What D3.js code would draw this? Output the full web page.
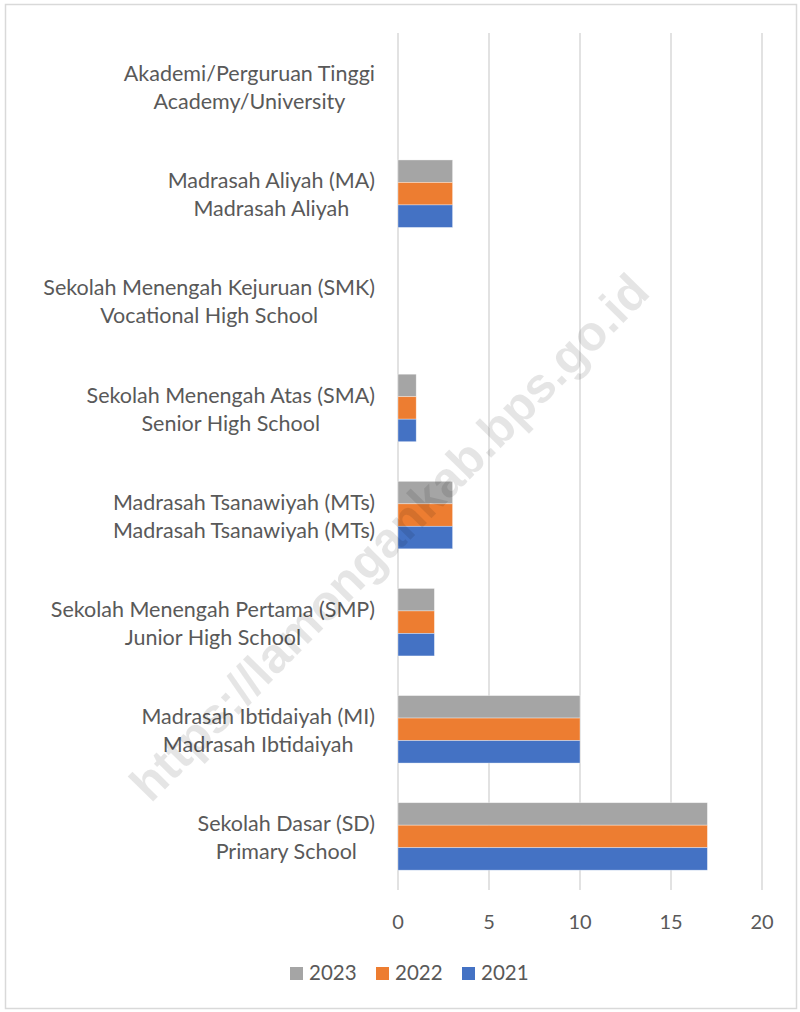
<!DOCTYPE html>
<html>
<head>
<meta charset="utf-8">
<script src="https://cdn.jsdelivr.net/npm/d3@7"></script>
<style>
  body { margin: 0; background: #fff; }
  text { font-family: Lato, "Open Sans", sans-serif; fill: #595959; }
</style>
</head>
<body>
<script>
// categories, top to bottom, two-line labels
var categories = [
  ["Akademi/Perguruan Tinggi", "Academy/University"],
  ["Madrasah Aliyah (MA)", "Madrasah Aliyah"],
  ["Sekolah Menengah Kejuruan (SMK)", "Vocational High School"],
  ["Sekolah Menengah Atas (SMA)", "Senior High School"],
  ["Madrasah Tsanawiyah (MTs)", "Madrasah Tsanawiyah (MTs)"],
  ["Sekolah Menengah Pertama (SMP)", "Junior High School"],
  ["Madrasah Ibtidaiyah (MI)", "Madrasah Ibtidaiyah"],
  ["Sekolah Dasar (SD)", "Primary School"]
];
var years = ["2023", "2022", "2021"];
var v2023 = [0, 3, 0, 1, 3, 2, 10, 17];
var v2022 = [0, 3, 0, 1, 3, 2, 10, 17];
var v2021 = [0, 3, 0, 1, 3, 2, 10, 17];
var xTicks = [0, 5, 10, 15, 20];
var colors = {"2023": "#a5a5a5", "2022": "#ed7d31", "2021": "#4472c4"};

var W = 800, H = 1012;
var svg = d3.select("body").append("svg")
    .attr("width", W).attr("height", H);

// chart frame
svg.append("rect")
    .attr("x", 5.5).attr("y", 4.5)
    .attr("width", W - 9).attr("height", H - 8)
    .attr("fill", "#fff").attr("stroke", "#d9d9d9").attr("stroke-width", 1.5);

var x = d3.scaleLinear().domain([0, 20]).range([398, 762]);
var y = d3.scaleBand().domain(d3.range(categories.length)).range([33, 890]).paddingInner(0.37).paddingOuter(0.185);
var ySub = d3.scaleBand().domain(years).range([0, y.bandwidth()]);

var series = {"2023": v2023, "2022": v2022, "2021": v2021};

// gridlines
svg.append("g").selectAll("line")
    .data(xTicks)
  .enter().append("line")
    .attr("x1", function(d) { return x(d); })
    .attr("x2", function(d) { return x(d); })
    .attr("y1", 33).attr("y2", 890)
    .attr("stroke", "#d9d9d9").attr("stroke-width", 1.5);

// bars
var groups = svg.append("g").selectAll("g")
    .data(categories.map(function(c, i) { return i; }))
  .enter().append("g")
    .attr("transform", function(i) { return "translate(0," + y(i) + ")"; });

groups.selectAll("rect")
    .data(function(i) {
      return years.filter(function(yr) { return series[yr][i] > 0; })
        .map(function(yr) { return {year: yr, value: series[yr][i]}; });
    })
  .enter().append("rect")
    .attr("x", x(0))
    .attr("y", function(d) { return ySub(d.year); })
    .attr("width", function(d) { return x(d.value) - x(0); })
    .attr("height", ySub.bandwidth())
    .attr("fill", function(d) { return colors[d.year]; })
    .attr("stroke", "#fff").attr("stroke-opacity", 0.5).attr("stroke-width", 0.7);

// category labels
var lab = svg.append("g").selectAll("text")
    .data(categories)
  .enter().append("text")
    .attr("text-anchor", "middle")
    .attr("font-size", 21.5)
    .attr("y", function(d, i) { return y(i) + y.bandwidth() / 2; });

lab.each(function(d) {
  var t = d3.select(this);
  t.append("tspan").attr("x", 0).attr("dy", "-0.25em").text(d[0]);
  t.append("tspan").attr("x", 0).attr("dy", "1.3em").text(d[1]);
  // both lines centred on each other, block right edge at 375
  var bb = this.getBBox();
  t.selectAll("tspan").attr("x", 375 - bb.width / 2);
});

// x tick labels
svg.append("g").selectAll("text")
    .data(xTicks)
  .enter().append("text")
    .attr("x", function(d) { return x(d); })
    .attr("y", 929)
    .attr("text-anchor", "middle")
    .attr("font-size", 20)
    .text(function(d) { return d; });

// legend
var legX = [290, 376, 462];
var leg = svg.append("g").selectAll("g")
    .data(years)
  .enter().append("g")
    .attr("transform", function(d, i) { return "translate(" + legX[i] + ",967)"; });
leg.append("rect")
    .attr("width", 13).attr("height", 13)
    .attr("fill", function(d) { return colors[d]; });
leg.append("text")
    .attr("x", 19).attr("y", 13)
    .attr("font-size", 20.5)
    .text(function(d) { return d; });

// watermark
var wm = svg.append("text")
    .attr("transform", "translate(392,540) rotate(-45.5)")
    .attr("text-anchor", "middle")
    .attr("dominant-baseline", "middle")
    .attr("font-size", 44)
    .attr("font-weight", "bold")
    .style("font-family", "'Liberation Sans', Arial, sans-serif")
    .style("fill", "#000")
    .style("fill-opacity", 0.1)
    .text("https://lamongankab.bps.go.id");
var len = wm.node().getComputedTextLength();
wm.attr("font-size", 44 * 715 / len);
</script>
</body>
</html>
